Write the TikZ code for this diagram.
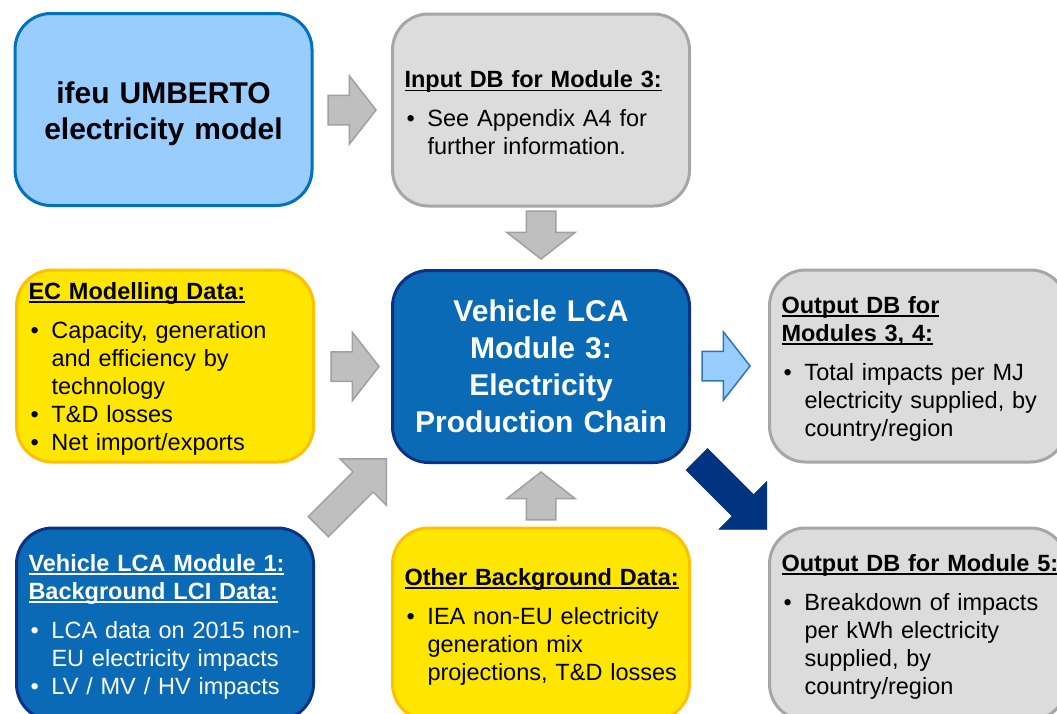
\documentclass[tikz,border=0pt]{standalone}
\usepackage{fontspec}
\setmainfont{Liberation Sans}
\usetikzlibrary{shapes.arrows,calc}
\definecolor{ltblue}{HTML}{99CCFF}
\definecolor{ltblueline}{HTML}{0070C0}
\definecolor{grayfill}{HTML}{DCDCDC}
\definecolor{grayline}{HTML}{A6A6A6}
\definecolor{yelfill}{HTML}{FFE600}
\definecolor{yelline}{HTML}{FFC000}
\definecolor{bluefill}{HTML}{0A6AB6}
\definecolor{blueline}{HTML}{0B3284}
\definecolor{navy}{HTML}{003380}
\definecolor{arrgray}{HTML}{BFBFBF}
\definecolor{arrgrayline}{HTML}{A0A0A0}
\definecolor{arrblueline}{HTML}{2E75B6}
\newcommand\ulh[1]{\leavevmode{\setbox0\hbox{\textbf{#1}}\rlap{\rule[-3.2pt]{\wd0}{1.4pt}}\box0}}
\newcommand\topstrut{\rule{0pt}{23pt}}
\newcommand\bl[1]{\leavevmode\makebox[23pt][l]{\hspace{2pt}•}\mbox{#1}}
\newcommand\ind[1]{\leavevmode\hspace*{23pt}\mbox{#1}}
\tikzset{
  box/.style={rounded corners=36pt, line width=3pt, minimum width=297pt,
    minimum height=192pt, inner xsep=12pt, inner ysep=0pt, text width=273pt,
    align=left, font=\fontsize{23.5pt}{28pt}\selectfont},
  graybox/.style={box, draw=grayline, fill=grayfill},
  yelbox/.style={box, draw=yelline, fill=yelfill},
  bluebox/.style={box, draw=blueline, fill=bluefill, text=white},
  titlebox/.style={align=center, font=\fontsize{30pt}{37pt}\selectfont\bfseries},
  blockarr/.style={single arrow, anchor=tip, inner xsep=0pt, single arrow head indent=0pt, line width=1.5pt},
  grayarr/.style={blockarr, draw=arrgrayline, fill=arrgray},
  sarr/.style={minimum height=48pt, inner ysep=14pt, single arrow head extend=19.5pt, single arrow tip angle=104},
}
\begin{document}
\begin{tikzpicture}[x=1pt,y=-1pt]
\useasboundingbox (0,0) rectangle (1057,713);
% boxes
\node[box, titlebox, draw=ltblueline, fill=ltblue] (ifeu) at (163.5,109.5)
  {\rule{0pt}{30pt}ifeu UMBERTO\\[-1pt]electricity model};
\node[graybox] (inp) at (541,110)
  {\topstrut\ulh{Input DB for Module 3:}\\[11pt]\bl{See Appendix A4 for}\\\ind{further information.}};
\node[yelbox] (ec) at (165,366)
  {\topstrut\ulh{EC Modelling Data:}\\[11pt]\bl{Capacity, generation}\\\ind{and efficiency by}\\\ind{technology}\\\bl{T\&D losses}\\\bl{Net import/exports}};
\node[bluebox, titlebox] (ctr) at (541,366.5)
  {Vehicle LCA\\Module 3:\\Electricity\\Production Chain};
\node[graybox] (out34) at (918,366)
  {\topstrut\ulh{Output DB for}\\\ulh{Modules 3, 4:}\\[11pt]\bl{Total impacts per MJ}\\\ind{electricity supplied, by}\\\ind{country/region}};
\node[bluebox] (mod1) at (165,624)
  {\topstrut\ulh{Vehicle LCA Module 1:}\\\ulh{Background LCI Data:}\\[11pt]\bl{LCA data on 2015 non-}\\\ind{EU electricity impacts}\\\bl{LV / MV / HV impacts}};
\node[yelbox] (oth) at (541,624)
  {\topstrut\ulh{Other Background Data:}\\[11pt]\bl{IEA non-EU electricity}\\\ind{generation mix}\\\ind{projections, T\&D losses}};
\node[graybox] (out5) at (918,624)
  {\topstrut\ulh{Output DB for Module 5:}\\[11pt]\bl{Breakdown of impacts}\\\ind{per kWh electricity}\\\ind{supplied, by}\\\ind{country/region}};
% arrows (tips placed relative to the target boxes)
\node[grayarr, sarr] (a1) at ($(inp.west)+(-14,0)$) {};
\node[grayarr, sarr, rotate=-90] (a2) at ($(ctr.north)+(0,-9)$) {};
\node[grayarr, sarr] (a3) at ($(ctr.west)+(-11,0)$) {};
\node[grayarr, sarr, rotate=90] (a4) at ($(ctr.south)+(0,7)$) {};
\node[blockarr, sarr, draw=arrblueline, fill=ltblue] (a5) at ($(out34.west)+(-17,0)$) {};
\node[grayarr, rotate=45, minimum height=96pt, inner ysep=13.5pt,
  single arrow head extend=18.5pt, single arrow tip angle=90] (a6)
  at ($(ctr.south west)+(-4,-6)$) {};
\node[blockarr, draw=navy, fill=navy, line width=0.5pt, rotate=-45, minimum height=99pt, inner ysep=15pt,
  single arrow head extend=18.5pt, single arrow tip angle=90] (a7)
  at ($(out5.north west)+(-1,3)$) {};
\end{tikzpicture}
\end{document}
